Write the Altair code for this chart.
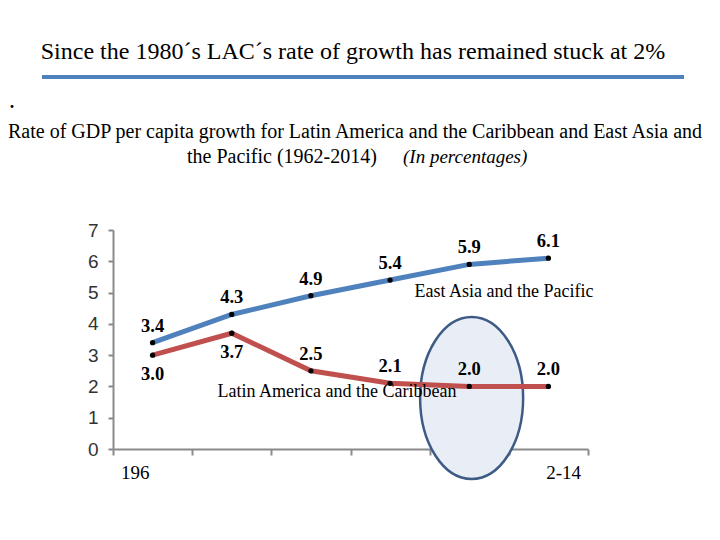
import altair as alt
import pandas as pd

periods = ["1962-1970", "1971-1980", "1981-1990", "1991-2000", "2001-2010", "2011-2014"]
eap = [3.4, 4.3, 4.9, 5.4, 5.9, 6.1]
lac = [3.0, 3.7, 2.5, 2.1, 2.0, 2.0]
series_names = ["East Asia and the Pacific", "Latin America and the Caribbean"]
series_colors = ["#4F81BD", "#C0504D"]
y_ticks = [0, 1, 2, 3, 4, 5, 6, 7]
tick_labels = ["196", "2-14"]
highlight_period = "2001-2010"
highlight_y = 1.63

title_text = "Since the 1980´s LAC´s rate of growth has remained stuck at 2%"
sub1 = "Rate of GDP per capita growth for Latin America and the Caribbean and East Asia and"
sub2a = "the Pacific (1962-2014)"
sub2b = "(In percentages)"

rows = []
for i, p in enumerate(periods):
    rows.append({"period": p, "idx": i, "series": series_names[0], "value": eap[i]})
    rows.append({"period": p, "idx": i, "series": series_names[1], "value": lac[i]})
df = pd.DataFrame(rows)

W, H = 475, 219
SERIF = "Liberation Serif"

x_enc = alt.X("pos:Q", scale=alt.Scale(domain=[0, len(periods)]),
              axis=alt.Axis(values=list(range(len(periods) + 1)), labels=False, title=None,
                            grid=False, tickSize=6))
y_enc = alt.Y("value:Q", scale=alt.Scale(domain=[0, 7]),
              axis=alt.Axis(values=y_ticks, title=None, grid=False, tickSize=5, labelPadding=10))
color_enc = alt.Color("series:N", scale=alt.Scale(domain=series_names, range=series_colors), legend=None)

base = alt.Chart(df).transform_calculate(pos="datum.idx + 0.5")

# highlight ellipse
hl_df = pd.DataFrame({"period": [highlight_period], "idx": [periods.index(highlight_period)], "value": [highlight_y]})
ellipse_path = "M -0.636 0 A 0.636 1 0 1 1 0.636 0 A 0.636 1 0 1 1 -0.636 0 Z"
ellipse = alt.Chart(hl_df).transform_calculate(pos="datum.idx + 0.53").mark_point(
    shape=ellipse_path, size=162 * 162, fill="#E9EEF6", stroke="#3D5B85", strokeWidth=2.5,
    opacity=1, fillOpacity=1, filled=False
).encode(x=x_enc, y=y_enc)

lines = base.mark_line(strokeWidth=5).encode(x=x_enc, y=y_enc, color=color_enc, detail="series:N")
points = base.mark_point(filled=True, color="black", size=28, opacity=1).encode(x=x_enc, y=y_enc)

lab_style = dict(font=SERIF, fontSize=18.5, fontWeight="bold", color="black")
eap_labels = base.transform_filter(alt.datum.series == series_names[0]).mark_text(dy=-17, **lab_style).encode(
    x=x_enc, y=y_enc, text=alt.Text("value:Q", format=".1f"))
lac_above = base.transform_filter((alt.datum.series == series_names[1]) & (alt.datum.idx >= 2)).mark_text(
    dy=-17, **lab_style).encode(x=x_enc, y=y_enc, text=alt.Text("value:Q", format=".1f"))
lac_below = base.transform_filter((alt.datum.series == series_names[1]) & (alt.datum.idx < 2)).mark_text(
    dy=19, **lab_style).encode(x=x_enc, y=y_enc, text=alt.Text("value:Q", format=".1f"))

def txt(s, x, y, size, align="center", style="normal", weight="normal", font=SERIF, color="black"):
    return alt.Chart(pd.DataFrame({"t": [s]})).mark_text(
        align=align, baseline="middle", fontSize=size, font=font, fontStyle=style,
        fontWeight=weight, color=color
    ).encode(x=alt.value(x), y=alt.value(y), text="t:N")

name_eap = txt(series_names[0], 391, 62, 18)
name_lac = txt(series_names[1], 224, 162, 18)
tl0 = txt(tick_labels[0], 8, 243, 19, align="left")
tl1 = txt(tick_labels[1], W - 7, 243, 19, align="right")

title = txt(title_text, 240, -178, 24)
rule = alt.Chart(pd.DataFrame({"a": [0]})).mark_rule(color="#4F81BD", strokeWidth=4).encode(
    x=alt.value(-71), x2=alt.value(571), y=alt.value(-153))
dot = txt(".", -101, -127, 18, weight="bold")
s1 = txt(sub1, 242, -98, 20)
s2a = txt(sub2a, 74, -73, 20, align="left")
s2b = txt(sub2b, 290, -73, 19, align="left", style="italic")

chart = alt.layer(
    ellipse, lines, points, eap_labels, lac_above, lac_below, name_eap, name_lac, tl0, tl1,
    title, rule, dot, s1, s2a, s2b
).properties(
    width=W, height=H,
    autosize=alt.AutoSizeParams(type="none"),
    padding={"left": 105, "top": 222, "right": 124, "bottom": 83},
).configure_view(stroke=None).configure_axis(
    domainColor="#8a8a8a", domainWidth=2, tickColor="#8a8a8a", tickWidth=2,
    labelFont="Liberation Sans", labelFontSize=19, labelColor="#333333"
)

chart.save("out.html", embed_options={"renderer": "svg", "actions": False})
